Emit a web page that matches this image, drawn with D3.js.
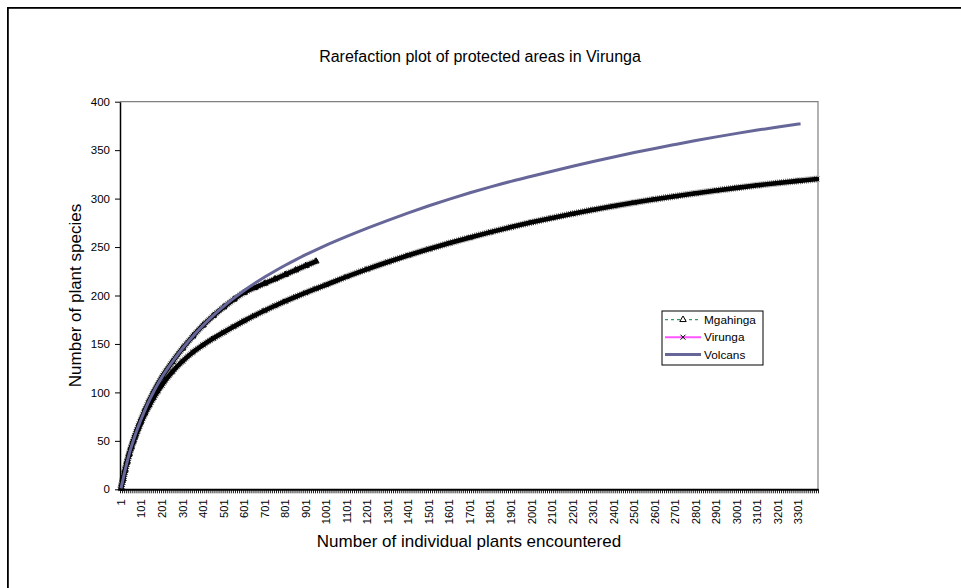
<!DOCTYPE html>
<html><head><meta charset="utf-8">
<script src="https://cdn.jsdelivr.net/npm/d3@7"></script>
<style>
html,body{margin:0;padding:0;background:#fff;}
svg{display:block;font-family:"Liberation Sans", Arial, sans-serif;}
</style></head><body>
<svg id="chart" width="961" height="588"></svg>
<script>
// ---------------- data ----------------
const chartTitle = "Rarefaction plot of protected areas in Virunga";
const xTitle = "Number of individual plants encountered";
const yTitle = "Number of plant species";
const seriesNames = ["Mgahinga", "Virunga", "Volcans"];

// number of individuals sampled (category values, one category per 10 individuals)
const sampleSize = [1, 11, 21, 31, 41, 51, 61, 71, 81, 91, 101, 121, 141, 161, 181, 201,
  251, 301, 351, 401, 451, 501, 551, 601, 651, 701, 751, 801, 851, 901, 951, 1001,
  1101, 1201, 1301, 1401, 1501, 1601, 1701, 1801, 1901, 2001, 2101, 2201, 2301, 2401,
  2501, 2601, 2701, 2801, 2901, 3001, 3101, 3201, 3301, 3311, 3391];

const mgahinga = [1, 10.5, 19.8, 28.6, 36.6, 43.8, 50.4, 56.6, 62.4, 68.0, 73.3, 83.5, 92.8,
  101.2, 108.9, 116.0, 131.5, 145.5, 158.0, 169.3, 179.2, 188.0, 196.0, 203.0, 208.0, 212.5,
  217.0, 221.6, 226.2, 230.8, 235.3];

const virunga = [1, 10.6, 19.9, 28.4, 36.0, 42.8, 48.9, 54.5, 60.0, 65.0, 70.0, 79.0, 87.2,
  94.6, 101.4, 107.7, 121.3, 132.3, 141.5, 149.0, 155.8, 162.0, 168.0, 173.8, 179.3, 184.5,
  189.4, 194.1, 198.6, 202.9, 207.1, 211.1, 219.5, 227.3, 234.6, 241.5, 248.0, 254.1, 259.9,
  265.4, 270.6, 275.5, 280.1, 284.4, 288.5, 292.3, 295.9, 299.3, 302.5, 305.5, 308.4, 311.1,
  313.7, 316.1, 318.3, 318.5, 320.2];

const volcans = [1, 10.5, 19.8, 28.6, 36.6, 43.8, 50.4, 56.6, 62.4, 68.0, 73.3, 83.5, 92.8,
  101.2, 108.9, 116.0, 131.5, 145.5, 158.0, 169.3, 179.5, 188.8, 197.3, 205.1, 212.3, 219.0,
  225.3, 231.2, 236.8, 242.1, 247.1, 251.9, 260.9, 269.5, 277.6, 285.3, 292.6, 299.5, 306.0,
  312.1, 317.8, 323.0, 328.3, 333.4, 338.3, 343.0, 347.5, 351.8, 355.9, 359.9, 363.7, 367.3,
  370.7, 373.9, 376.9, 377.2];

const yTicks = [0, 50, 100, 150, 200, 250, 300, 350, 400];
const xTickLabels = [1, 101, 201, 301, 401, 501, 601, 701, 801, 901, 1001, 1101, 1201, 1301,
  1401, 1501, 1601, 1701, 1801, 1901, 2001, 2101, 2201, 2301, 2401, 2501, 2601, 2701, 2801,
  2901, 3001, 3101, 3201, 3301];
const firstCategory = 1, lastCategory = 3391, categoryStep = 10;

// ---------------- layout ----------------
const L = 120, R = 818, T = 101.7, B = 489.3;
const svg = d3.select("#chart");

const x = d3.scaleLinear()
  .domain([firstCategory - categoryStep / 2, lastCategory + categoryStep / 2])
  .range([L, R]);
const y = d3.scaleLinear().domain([0, 400]).range([B, T]);

// outer chart frame
svg.append("rect").attr("x", 7.9).attr("y", 7.9).attr("width", 1000).attr("height", 700)
  .attr("fill", "none").attr("stroke", "#000").attr("stroke-width", 1.8);

// title
svg.append("text").attr("x", 480).attr("y", 62).attr("text-anchor", "middle")
  .attr("font-size", "16px").attr("fill", "#000").text(chartTitle);

// plot area border (top + right)
svg.append("path").attr("d", `M${L},${T}H${R}V${B}`)
  .attr("fill", "none").attr("stroke", "#808080").attr("stroke-width", 1.2);

// y axis
const yAxis = svg.append("g").attr("transform", `translate(${L},0)`)
  .call(d3.axisLeft(y).tickValues(yTicks).tickSize(5).tickSizeOuter(0).tickPadding(5));
yAxis.selectAll("text").attr("font-size", "11.5px").attr("fill", "#000")
  .attr("font-family", '"Liberation Sans", Arial, sans-serif');
yAxis.selectAll("line").attr("stroke", "#000");
yAxis.select(".domain").attr("stroke", "#000").attr("stroke-width", 1.5);

// x axis: tick marks at category boundaries
const boundaries = d3.range(firstCategory - categoryStep / 2, lastCategory + categoryStep / 2 + 0.1, categoryStep);
const xAxis = svg.append("g").attr("transform", `translate(0,${B})`)
  .call(d3.axisBottom(x).tickValues(boundaries).tickSize(4).tickSizeOuter(0).tickFormat(""));
xAxis.selectAll("line").attr("stroke", "#000").attr("stroke-width", 0.9);
xAxis.select(".domain").attr("stroke", "#000").attr("stroke-width", 2);

svg.append("g").selectAll("text").data(xTickLabels).join("text")
  .attr("transform", d => `translate(${x(d)},${B + 10}) rotate(-90)`)
  .attr("text-anchor", "end").attr("dy", "0.35em")
  .attr("font-size", "11.2px").attr("fill", "#000").text(d => d);

// axis titles
svg.append("text").attr("x", (L + R) / 2).attr("y", 547).attr("text-anchor", "middle")
  .attr("font-size", "17px").attr("fill", "#000").text(xTitle);
svg.append("text").attr("transform", `translate(80.5,${(T + B) / 2}) rotate(-90)`)
  .attr("text-anchor", "middle").attr("font-size", "17px").attr("fill", "#000").text(yTitle);

// ---------------- series ----------------
const toPoints = vals => vals.map((v, i) => ({ n: sampleSize[i], v }));
const line = d3.line().x(d => x(d.n)).y(d => y(d.v)).curve(d3.curveMonotoneX);
const plot = svg.append("g");

function band(points, lineColor, dash, symbol) {
  // series line (under the dense markers)
  plot.append("path").attr("d", line(points)).attr("fill", "none")
    .attr("stroke", lineColor).attr("stroke-width", 1.2).attr("stroke-dasharray", dash);
  // dense marker band: hatched fringe + solid core
  plot.append("path").attr("d", line(points)).attr("fill", "none")
    .attr("stroke", "#000").attr("stroke-width", 7).attr("stroke-dasharray", "1,1.05")
    .attr("stroke-opacity", 0.55);
  plot.append("path").attr("d", line(points)).attr("fill", "none")
    .attr("stroke", "#000").attr("stroke-width", 4.6).attr("stroke-linecap", "round");
  plot.append("g").selectAll("path").data(points).join("path")
    .attr("transform", d => `translate(${x(d.n)},${y(d.v)})`)
    .attr("d", d3.symbol().type(symbol).size(16))
    .attr("fill", "none").attr("stroke", "#000").attr("stroke-width", 1);
}

const mgPts = toPoints(mgahinga);
const viPts = toPoints(virunga);
const voPts = toPoints(volcans);

band(mgPts, "#339966", "3,3", d3.symbolTriangle);
band(viPts, "#ff33ff", null, d3.symbolTimes);

plot.append("path").attr("d", line(voPts)).attr("fill", "none")
  .attr("stroke", "#666699").attr("stroke-width", 3).attr("stroke-linejoin", "round");

// ---------------- legend ----------------
const lg = svg.append("g").attr("transform", "translate(662,311)");
lg.append("rect").attr("x", 0).attr("y", 0).attr("width", 101).attr("height", 54)
  .attr("fill", "#fff").attr("stroke", "#000").attr("stroke-width", 1);
const rowsY = [8.7, 26.2, 43.6];
const legendStyle = [
  { color: "#339966", width: 1.2, dash: "3,3", symbol: d3.symbolTriangle },
  { color: "#ff55ff", width: 2, dash: null, symbol: d3.symbolTimes },
  { color: "#666699", width: 3, dash: null, symbol: null }
];
seriesNames.forEach((name, i) => {
  const s = legendStyle[i];
  lg.append("line").attr("x1", 3).attr("x2", 39).attr("y1", rowsY[i]).attr("y2", rowsY[i])
    .attr("stroke", s.color).attr("stroke-width", s.width).attr("stroke-dasharray", s.dash);
  if (s.symbol) {
    lg.append("path").attr("transform", `translate(21,${rowsY[i]})`)
      .attr("d", d3.symbol().type(s.symbol).size(18))
      .attr("fill", "#fff").attr("stroke", "#000").attr("stroke-width", 1);
  }
  lg.append("text").attr("x", 42).attr("y", rowsY[i]).attr("dy", "0.36em")
    .attr("font-size", "11.8px").attr("fill", "#000").text(name);
});
</script>
</body></html>
